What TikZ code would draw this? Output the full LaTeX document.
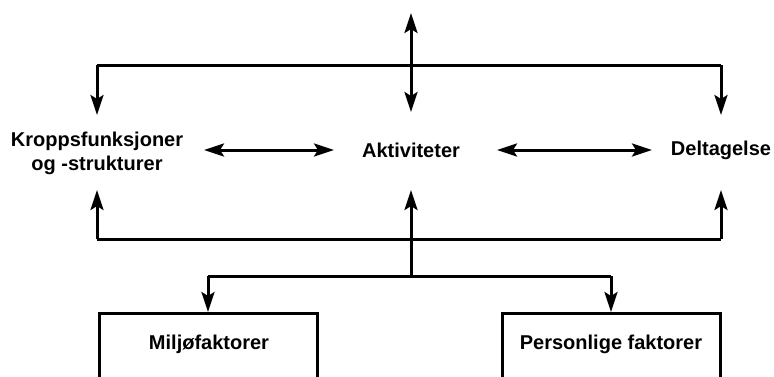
\documentclass[tikz,border=0pt]{standalone}
\usepackage{fontspec}
\setmainfont{Liberation Sans}
\usetikzlibrary{arrows.meta}
\begin{document}
\begin{tikzpicture}[x=0.5pt,y=-0.5pt,
  tip/.tip={Stealth[length=10pt,width=6.5pt,inset=2pt]},
  conn/.style={line width=1.5pt,-tip},
  both/.style={line width=1.5pt,tip-tip},
  wire/.style={line width=1.5pt},
  lbl/.style={font=\fontsize{10}{12}\selectfont\bfseries,align=center,inner sep=0pt},
  factorbox/.style={draw,line width=1.5pt,minimum width=109pt,minimum height=60pt,anchor=north,inner sep=0pt}]
\clip (0,0) rectangle (774,376);
% labels
\node[lbl] (kf) at (97,153) {Kroppsfunksjoner\\og -strukturer};
\node[lbl] (akt) at (411,150) {Aktiviteter};
\node[lbl] (del) at (721,150) {Deltagelse};
\node[factorbox] (mbox) at (208,312) {};
\node[factorbox] (pbox) at (611,312) {};
\node[lbl] (mil) at (209,344) {Miljøfaktorer};
\node[lbl] (per) at (611,344) {Personlige faktorer};
% coordinates
\coordinate (top) at (411,13);
\coordinate (aktT) at (411,112);
\coordinate (tl) at (97,65);
\coordinate (tr) at (721,65);
\coordinate (kfT) at (97,115);
\coordinate (delT) at (721,115);
\coordinate (kfB) at (97,190);
\coordinate (delB) at (721,190);
\coordinate (aktB) at (411,190);
\coordinate (bl) at (97,239);
\coordinate (br) at (721,239);
\coordinate (mid) at (411,276);
\coordinate (ml) at (208,276);
\coordinate (mr) at (611,276);
\coordinate (a1) at (204,150);
\coordinate (a2) at (334,150);
\coordinate (a3) at (497,150);
\coordinate (a4) at (652,150);
% top structure
\draw[wire] (tl) -- (tr);
\draw[conn] (tl) -- (kfT);
\draw[conn] (tr) -- (delT);
\draw[both] (top) -- (aktT);
% horizontal arrows
\draw[both] (a1) -- (a2);
\draw[both] (a3) -- (a4);
% bottom structure
\draw[wire] (bl) -- (br);
\draw[conn] (bl) -- (kfB);
\draw[conn] (br) -- (delB);
\draw[conn] (mid) -- (aktB);
\draw[wire] (ml) -- (mr);
\draw[conn] (ml) -- (mbox.north);
\draw[conn] (mr) -- (pbox.north);
\end{tikzpicture}
\end{document}
